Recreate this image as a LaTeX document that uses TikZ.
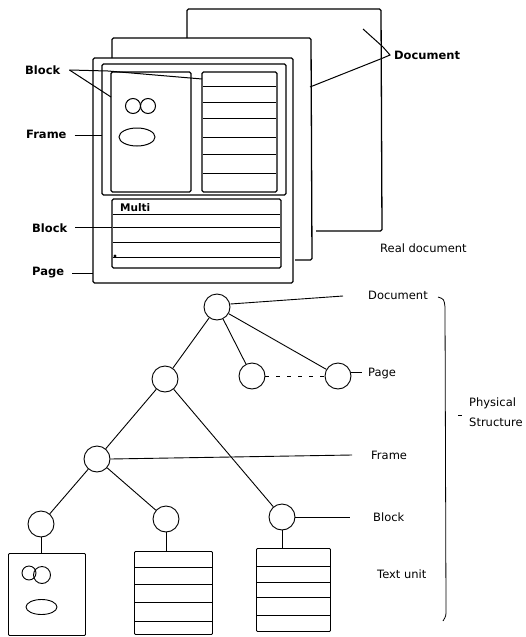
\documentclass[tikz,border=0pt]{standalone}
\usepackage{fontspec}
\setmainfont{DejaVu Sans}
\begin{document}
\begin{tikzpicture}[x=1pt,y=-1pt,
  sheet/.style={line width=1.3pt, rounded corners=1.5pt},
  inner/.style={line width=1.1pt, rounded corners=1.5pt},
  lbl/.style={font=\bfseries\fontsize{11.5}{13}\selectfont, anchor=west, inner sep=0},
  rlbl/.style={font=\fontsize{11.5}{13}\selectfont, anchor=west, inner sep=0},
  tlbl/.style={font=\fontsize{11.5}{13}\selectfont, anchor=west, inner sep=0},
  lead/.style={line width=1pt},
  tn/.style={circle, draw, line width=0.9pt, minimum size=26pt, inner sep=0},
  unitbox/.style={draw, line width=0.9pt, rounded corners=1pt, anchor=north west, inner sep=0},
  edge/.style={line width=0.9pt}]
\useasboundingbox (0,0) rectangle (526,637);

% ---------- real document (top) ----------
\draw[sheet] (316,231) -- (382,231) -- (381,9) -- (187,9) -- (187,38);
\draw[sheet] (295,260) -- (312,260) -- (311,38) -- (112,38) -- (112,58);
\draw[sheet] (93,58) rectangle (293,283);
\draw[inner] (102,64) rectangle (286,195);
\draw[inner] (111,72) rectangle (191,192);
\draw[inner] (202,72) rectangle (277,192);
\foreach \y in {86,102,118,137,154,173} \draw[line width=1pt] (203,\y) -- (276,\y);
\draw[inner] (112,199) rectangle (281,268);
\foreach \y in {214,227,242,257} \draw[line width=1pt] (113,\y) -- (280,\y);
\fill (115,256) circle (1.6pt);
\node[font=\bfseries\fontsize{10.5}{12}\selectfont, anchor=west, inner sep=0] (multi) at (120,208) {Multi};
\draw[line width=1pt] (133,106) circle (7.5pt);
\draw[line width=1pt] (148,106) circle (7.5pt);
\draw[line width=1pt] (137,137) ellipse (18pt and 9pt);

% labels top
\node[lbl] (lblock) at (25,70) {Block};
\node[lbl] (lframe) at (26,134) {Frame};
\node[lbl] (lblock2) at (32,228) {Block};
\node[lbl] (lpage) at (32,273) {Page};
\node[lbl] (ldoc) at (394,55) {Document};
\node[rlbl] (lreal) at (380,248) {Real document};

\coordinate (bj) at (108,71);
\coordinate (brb) at (202,79);
\coordinate (blb) at (111,97);
\draw[lead] (lblock.east) ++(9,0) coordinate (bs) -- (bj) -- (brb);
\draw[lead] (bs) -- (blb);
\draw[lead] (lframe.east) ++(8,1) -- (102,135);
\draw[lead] (lblock2.east) ++(8,-1) -- (112,227);
\draw[lead] (lpage.east) ++(8,0) -- (93,273);
\coordinate (dv) at (390,55);
\draw[lead] (363,29) -- (383,47) -- (dv) -- (383,58) -- (310,87);

% ---------- physical structure (tree) ----------
\node[tn] (root) at (217,307) {};
\node[tn] (p1) at (165,379) {};
\node[tn] (p2) at (252,376) {};
\node[tn] (p3) at (338,376) {};
\node[tn] (fr) at (97,459) {};
\node[tn] (b1) at (41,524) {};
\node[tn] (b2) at (166,519) {};
\node[tn] (b3) at (282,517) {};

\draw[edge] (root) -- (p1);
\draw[edge] (root) -- (p2);
\draw[edge] (root) -- (p3);
\draw[edge, dash pattern=on 4pt off 7pt] (p2) -- (p3);
\draw[edge] (p1) -- (fr);
\draw[edge] (p1) -- (b3);
\draw[edge] (fr) -- (b1);
\draw[edge] (fr) -- (b2);

\node[unitbox, minimum width=77pt, minimum height=82pt] (u1) at (8,553) {};
\node[unitbox, minimum width=78pt, minimum height=83pt] (u2) at (134,551) {};
\node[unitbox, minimum width=74pt, minimum height=83pt] (u3) at (256,548) {};
\draw[edge] (b1.south) -- (b1.south |- u1.north);
\draw[edge] (b2.south) -- (b2.south |- u2.north);
\draw[edge] (b3.south) -- (b3.south |- u3.north);

\draw[edge] (29,573) circle (7pt);
\draw[edge] (42,575) circle (8.5pt);
\draw[edge] (41.5,607) ellipse (15.5pt and 7.5pt);
\foreach \y in {567,584,602,621} \draw[edge] (u2.west |- 0,\y) -- (u2.east |- 0,\y);
\foreach \y in {566,582,597,615} \draw[edge] (u3.west |- 0,\y) -- (u3.east |- 0,\y);

% tree labels
\node[tlbl] (tdoc) at (368,295) {Document};
\node[tlbl] (tpage) at (368,373) {Page};
\node[tlbl] (tframe) at (371,455) {Frame};
\node[tlbl] (tblock) at (373,517) {Block};
\node[tlbl] (ttext) at (377,574) {Text unit};
\node[tlbl] (tphys) at (469,403) {Physical};
\node[tlbl] (tstruct) at (469,422) {Structure};

\draw[edge] (root.east) ++(0,-3) -- (343,296);
\draw[edge] (p3.east) ++(0,-4) -- (362,372);
\draw[edge] (fr.east) -- (352,455);
\draw[edge] (b3.east) -- (350,517);

\draw[line width=0.8pt] (438,297) .. controls (444,299) .. (445,307) -- (446,610) .. controls (446,616) .. (443,621);
\draw[line width=0.8pt] (458,415) -- (462,415);
\end{tikzpicture}
\end{document}
